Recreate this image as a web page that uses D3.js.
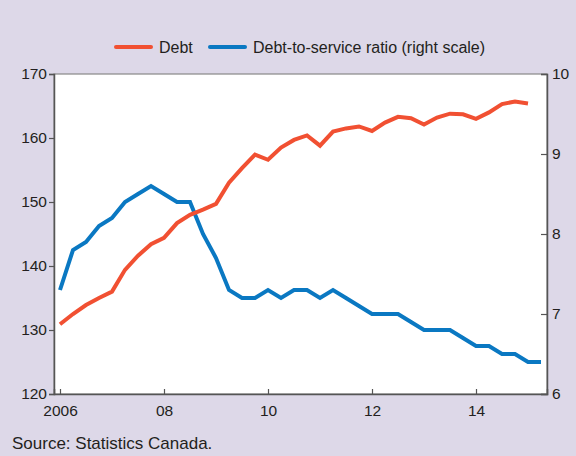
<!DOCTYPE html>
<html>
<head>
<meta charset="utf-8">
<script src="https://cdn.jsdelivr.net/npm/d3@7"></script>
<style>
html,body{margin:0;padding:0;background:#ddd8e8;}
svg{display:block;font-family:"Liberation Sans",Arial,sans-serif;}
</style>
</head>
<body>
<svg id="c" width="576" height="456"></svg>
<script>
// Quarterly data, 2006Q1 onward
const startYear = 2006;
const debt = [130.9,132.5,133.9,135.0,136.0,139.4,141.6,143.4,144.4,146.7,148.0,148.8,149.7,153.0,155.3,157.4,156.6,158.5,159.7,160.4,158.8,161.0,161.5,161.8,161.1,162.4,163.3,163.1,162.1,163.2,163.8,163.7,163.0,164.0,165.3,165.7,165.4];
const ratio = [7.3,7.8,7.9,8.1,8.2,8.4,8.5,8.6,8.5,8.4,8.4,8.0,7.7,7.3,7.2,7.2,7.3,7.2,7.3,7.3,7.2,7.3,7.2,7.1,7.0,7.0,7.0,6.9,6.8,6.8,6.8,6.7,6.6,6.6,6.5,6.5,6.4,6.4];
const xTicks = [2006,2008,2010,2012,2014];
const xTickLabels = ["2006","08","10","12","14"];
const leftTicks = [120,130,140,150,160,170];
const rightTicks = [6,7,8,9,10];
const seriesNames = ["Debt","Debt-to-service ratio (right scale)"];
const colors = ["#f15032","#0a78c2"];

const svg = d3.select("#c");
const L = 54, R = 547, T = 74, B = 394;
// 2006 sits at x=60, 52px per year
const x = d3.scaleLinear().domain([2006 - 6/52, 2006 + (R-60)/52]).range([L, R]);
const yL = d3.scaleLinear().domain([120,170]).range([B,T]);
const yR = d3.scaleLinear().domain([6,10]).range([B,T]);

svg.append("rect").attr("x",L).attr("y",T).attr("width",R-L).attr("height",B-T).attr("fill","#fff");

const tq = i => startYear + i*0.25;

const lineL = d3.line().x((d,i)=>x(tq(i))).y(d=>yL(d));
const lineR = d3.line().x((d,i)=>x(tq(i))).y(d=>yR(d));

svg.append("path").datum(ratio).attr("d",lineR).attr("fill","none")
  .attr("stroke",colors[1]).attr("stroke-width",4).attr("stroke-linejoin","miter");
svg.append("path").datum(debt).attr("d",lineL).attr("fill","none")
  .attr("stroke",colors[0]).attr("stroke-width",4).attr("stroke-linejoin","miter");

const axisColor = "#555";
svg.append("rect").attr("x",L).attr("y",T).attr("width",R-L).attr("height",B-T)
  .attr("fill","none").attr("stroke","#888").attr("stroke-width",1.2);

const gl = svg.append("g").attr("transform",`translate(${L},0)`)
  .call(d3.axisLeft(yL).tickValues(leftTicks).tickSize(5).tickPadding(2));
const gr = svg.append("g").attr("transform",`translate(${R},0)`)
  .call(d3.axisRight(yR).tickValues(rightTicks).tickFormat(d3.format("d")).tickSize(-6).tickPadding(12));
const gb = svg.append("g").attr("transform",`translate(0,${B})`)
  .call(d3.axisBottom(x).tickValues(xTicks).tickFormat((d,i)=>xTickLabels[i]).tickSize(-5).tickPadding(11));

[gl,gr,gb].forEach(g=>{
  g.select(".domain").attr("stroke",axisColor).attr("stroke-width",1.5);
  g.selectAll(".tick line").attr("stroke",axisColor).attr("stroke-width",1.2);
  g.selectAll("text").attr("fill","#231f20").attr("font-size",15.5)
   .attr("font-family","'Liberation Sans',Arial,sans-serif");
});
gr.selectAll(".tick text").attr("x",5);
gb.selectAll(".tick text").attr("dy","0.71em");

const leg = svg.append("g");
const legItems = [{x:116, name:seriesNames[0], c:colors[0]},{x:210, name:seriesNames[1], c:colors[1]}];
legItems.forEach(it=>{
  leg.append("line").attr("x1",it.x).attr("x2",it.x+35).attr("y1",47).attr("y2",47)
    .attr("stroke",it.c).attr("stroke-width",4).attr("stroke-linecap","round");
  leg.append("text").attr("x",it.x+43).attr("y",52.5).text(it.name)
    .attr("font-size",16).attr("fill","#231f20");
});

svg.append("text").attr("x",12).attr("y",449).text("Source: Statistics Canada.")
  .attr("font-size",17).attr("fill","#231f20");
</script>
</body>
</html>
